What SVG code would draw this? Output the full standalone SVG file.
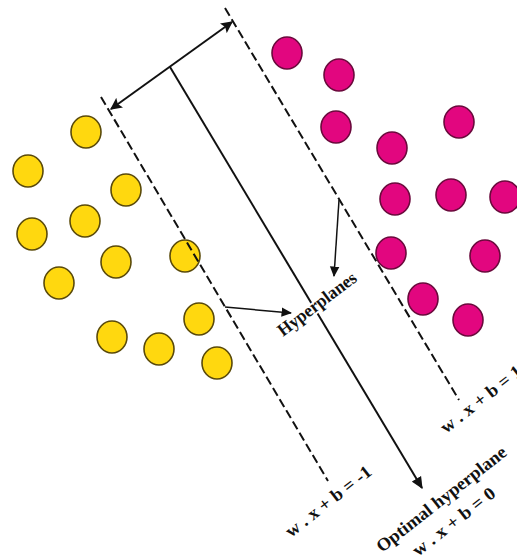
<svg xmlns="http://www.w3.org/2000/svg" width="517" height="557" viewBox="0 0 517 557">
<style>
.y{fill:#FFD80F;stroke:#5A4A0A;stroke-width:1.6}
.p{fill:#E2067F;stroke:#6A0A3C;stroke-width:1.6}
.dash{stroke:#111;stroke-width:2;stroke-dasharray:9 4;fill:none}
.solid{stroke:#111;stroke-width:2;fill:none}
.thin{stroke:#111;stroke-width:1.5;fill:none}
.lbl{font-family:"Liberation Serif","Times New Roman",serif;font-weight:bold;fill:#111}
</style>
<defs>
<marker id="ah" viewBox="0 0 10 10" refX="9" refY="5" markerWidth="6" markerHeight="6" orient="auto-start-reverse" markerUnits="strokeWidth">
<path d="M0,0 L10,5 L0,10 L2,5 Z" fill="#111"/>
</marker>
<marker id="ahs" viewBox="0 0 10 10" refX="9" refY="5" markerWidth="7" markerHeight="7" orient="auto" markerUnits="strokeWidth">
<path d="M0,0.5 L10,5 L0,9.5 Z" fill="#111"/>
</marker>
<marker id="ahm" viewBox="0 0 10 10" refX="9" refY="5" markerWidth="6" markerHeight="6" orient="auto" markerUnits="strokeWidth">
<path d="M0,0.5 L10,5 L0,9.5 Z" fill="#111"/>
</marker>
</defs>
<rect width="517" height="557" fill="#fff"/>
<g id="yellow-points">
<ellipse class="y" cx="86" cy="132" rx="15" ry="16"/>
<ellipse class="y" cx="28" cy="171" rx="15" ry="16"/>
<ellipse class="y" cx="126" cy="190" rx="15" ry="16"/>
<ellipse class="y" cx="85" cy="221" rx="15" ry="16"/>
<ellipse class="y" cx="32" cy="234" rx="15" ry="16"/>
<ellipse class="y" cx="116" cy="262" rx="15" ry="16"/>
<ellipse class="y" cx="185" cy="256" rx="15" ry="16"/>
<ellipse class="y" cx="59" cy="283" rx="15" ry="16"/>
<ellipse class="y" cx="199" cy="319" rx="15" ry="16"/>
<ellipse class="y" cx="112" cy="337" rx="15" ry="16"/>
<ellipse class="y" cx="159" cy="349" rx="15" ry="16"/>
<ellipse class="y" cx="217" cy="363" rx="15" ry="16"/>
</g>
<g id="pink-points">
<ellipse class="p" cx="287" cy="53" rx="15" ry="16"/>
<ellipse class="p" cx="339" cy="75" rx="15" ry="16"/>
<ellipse class="p" cx="336" cy="127" rx="15" ry="16"/>
<ellipse class="p" cx="459" cy="122" rx="15" ry="16"/>
<ellipse class="p" cx="392" cy="148" rx="15" ry="16"/>
<ellipse class="p" cx="395" cy="199" rx="15" ry="16"/>
<ellipse class="p" cx="451" cy="195" rx="15" ry="16"/>
<ellipse class="p" cx="505" cy="197" rx="15" ry="16"/>
<ellipse class="p" cx="391" cy="253" rx="15" ry="16"/>
<ellipse class="p" cx="485" cy="256" rx="15" ry="16"/>
<ellipse class="p" cx="423" cy="299" rx="15" ry="16"/>
<ellipse class="p" cx="468" cy="320" rx="15" ry="16"/>
</g>
<g id="connectors">
<line class="dash" x1="101" y1="97" x2="328" y2="481"/>
<line class="dash" x1="225" y1="8" x2="459" y2="400"/>
<line class="solid" x1="170" y1="67" x2="422" y2="488" marker-end="url(#ahm)"/>
<line class="solid" x1="111" y1="109" x2="232" y2="22" stroke-width="2.5" marker-start="url(#ah)" marker-end="url(#ah)"/>
<line class="thin" x1="225" y1="307" x2="291" y2="313" marker-end="url(#ahs)"/>
<line class="thin" x1="339" y1="200" x2="334" y2="276" marker-end="url(#ahs)"/>
</g>
<g id="label-hyperplanes">
<text class="lbl" font-size="18" transform="translate(283,337) rotate(-37)" stroke="#fff" stroke-width="4" paint-order="stroke" textLength="94" lengthAdjust="spacingAndGlyphs">Hyperplanes</text>
</g>
<g id="label-minus1">
<text class="lbl" font-size="18" transform="translate(291,538) rotate(-38)" textLength="104" lengthAdjust="spacingAndGlyphs">w . x + b = -1</text>
</g>
<g id="label-plus1">
<text class="lbl" font-size="18" transform="translate(446,434) rotate(-38)" textLength="98" lengthAdjust="spacingAndGlyphs">w . x + b = 1</text>
</g>
<g id="label-optimal">
<text class="lbl" font-size="18" transform="translate(382,553) rotate(-38)" textLength="160" lengthAdjust="spacingAndGlyphs">Optimal hyperplane</text>
<text class="lbl" font-size="18" transform="translate(418,557) rotate(-38)" textLength="100" lengthAdjust="spacingAndGlyphs">w . x + b = 0</text>
</g>
</svg>
